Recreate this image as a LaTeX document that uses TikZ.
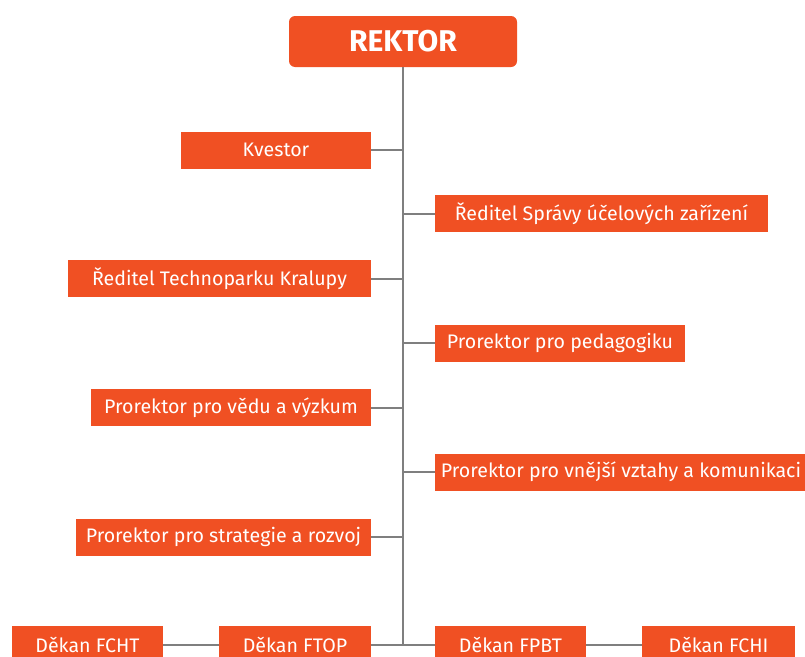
\documentclass[tikz,border=0pt]{standalone}
\usepackage{fontspec}
\setmainfont{Fira Sans}
\usetikzlibrary{calc}
\definecolor{oranzova}{HTML}{F05023}
\definecolor{sediva}{HTML}{7F7F7F}
\tikzset{box/.style={fill=oranzova,text=white,inner sep=0pt,minimum height=37pt,font=\fontsize{19.6}{22}\selectfont},
  link/.style={sediva,line width=2pt}}
\begin{document}
\begin{tikzpicture}[x=1pt,y=-1pt]
\useasboundingbox (0,0) rectangle (805,656);
\clip (0,0) rectangle (805,656);
\node[box,rounded corners=6pt,minimum width=228pt,minimum height=51pt,font=\fontsize{30}{32}\selectfont\bfseries] (rektor) at (403,41.5) {REKTOR};
\coordinate (konec) at (403,645);
\draw[link] (rektor.south)--(konec);
\node[box,minimum width=190pt] (kvestor) at (276,150) {Kvestor};
\node[box,minimum width=333pt] (suz) at (601.5,213.5) {Ředitel Správy účelových zařízení};
\node[box,minimum width=303pt] (techno) at (219.5,278.5) {Ředitel Technoparku Kralupy};
\node[box,minimum width=250pt] (pedag) at (560,343) {Prorektor pro pedagogiku};
\node[box,minimum width=280pt] (veda) at (231,407.5) {Prorektor pro vědu a výzkum};
\node[box,minimum width=372pt] (vnejsi) at (621,472) {Prorektor pro vnější vztahy a komunikaci};
\node[box,minimum width=295pt] (strat) at (223.5,537) {Prorektor pro strategie a rozvoj};
% dekani
\node[box,minimum width=151pt] (fcht) at (87.5,644.5) {Děkan FCHT};
\node[box,minimum width=152pt] (ftop) at (295,644.5) {Děkan FTOP};
\node[box,minimum width=151pt] (fpbt) at (510.5,644.5) {Děkan FPBT};
\node[box,minimum width=153pt] (fchi) at (718.5,644.5) {Děkan FCHI};
\foreach \n in {kvestor,techno,veda,strat}{\draw[link] (\n.east)--(\n.east -| konec);}
\foreach \n in {suz,pedag,vnejsi}{\draw[link] (\n.west)--(\n.west -| konec);}
\draw[link] (fcht.east)--(ftop.west) (ftop.east)--(fpbt.west) (fpbt.east)--(fchi.west);
\end{tikzpicture}
\end{document}
